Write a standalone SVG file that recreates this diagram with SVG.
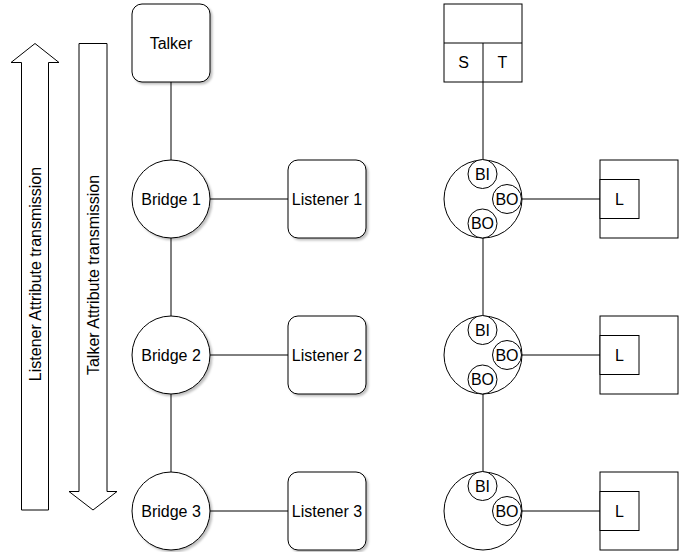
<svg xmlns="http://www.w3.org/2000/svg" width="694" height="552" viewBox="0 0 694 552">
<style>
.s{fill:#fff;stroke:#000;stroke-width:1}
.sh{filter:url(#shadow)}
.c{fill:none;stroke:#000;stroke-width:1}
text{font-family:"Liberation Sans",Arial,Helvetica,sans-serif;font-size:16px;fill:#000;text-anchor:middle}
</style>
<defs>
<filter id="shadow" x="-20%" y="-20%" width="150%" height="150%">
<feDropShadow dx="2" dy="2" stdDeviation="1" flood-color="#000" flood-opacity="0.25"/>
</filter>
</defs>
<g id="arrow-listener">
<polygon class="s" points="21.5,510 21.5,62.5 11,62.5 35,43.5 59,62.5 48.5,62.5 48.5,510"/>
<text x="35" y="274" transform="rotate(-90 35 274)" dy="5.5">Listener Attribute transmission</text>
</g>
<g id="arrow-talker">
<polygon class="s" points="79,43.5 107,43.5 107,491.5 117,491.5 93,510 69,491.5 79,491.5"/>
<text x="93" y="275" transform="rotate(-90 93 275)" dy="5.5">Talker Attribute transmission</text>
</g>
<g id="connectors">
<line class="c" x1="171" y1="82" x2="171" y2="160"/>
<line class="c" x1="171" y1="238" x2="171" y2="316"/>
<line class="c" x1="171" y1="394" x2="171" y2="472"/>
<line class="c" x1="210" y1="199" x2="288" y2="199"/>
<line class="c" x1="210" y1="355" x2="288" y2="355"/>
<line class="c" x1="210" y1="511" x2="288" y2="511"/>
<line class="c" x1="483" y1="82" x2="483" y2="160"/>
<line class="c" x1="483" y1="238" x2="483" y2="316"/>
<line class="c" x1="483" y1="394" x2="483" y2="472"/>
<line class="c" x1="522" y1="199" x2="600" y2="199"/>
<line class="c" x1="522" y1="355" x2="600" y2="355"/>
<line class="c" x1="522" y1="511" x2="600" y2="511"/>
</g>
<g id="talker">
<rect class="s sh" x="132" y="4" width="78" height="78" rx="10"/>
<text x="171" y="48.5">Talker</text>
</g>
<g id="bridge1">
<circle class="s sh" cx="171" cy="199" r="39"/>
<text x="171" y="204.5">Bridge 1</text>
</g>
<g id="bridge2">
<circle class="s sh" cx="171" cy="355" r="39"/>
<text x="171" y="360.5">Bridge 2</text>
</g>
<g id="bridge3">
<circle class="s sh" cx="171" cy="511" r="39"/>
<text x="171" y="516.5">Bridge 3</text>
</g>
<g id="listener1">
<rect class="s sh" x="288" y="160" width="78" height="78" rx="10"/>
<text x="327" y="204.5">Listener 1</text>
</g>
<g id="listener2">
<rect class="s sh" x="288" y="316" width="78" height="78" rx="10"/>
<text x="327" y="360.5">Listener 2</text>
</g>
<g id="listener3">
<rect class="s sh" x="288" y="472" width="78" height="78" rx="10"/>
<text x="327" y="516.5">Listener 3</text>
</g>
<g id="st-box">
<rect class="s" x="444" y="4" width="78" height="78"/>
<line class="c" x1="444" y1="43" x2="522" y2="43"/>
<line class="c" x1="483" y1="43" x2="483" y2="82"/>
<text x="463.5" y="68">S</text>
<text x="502.5" y="68">T</text>
</g>
<g id="bridge-r1">
<circle class="s" cx="483" cy="199" r="39"/>
<circle class="s" cx="482.5" cy="174" r="14.5"/>
<text x="482.5" y="179.5">BI</text>
<circle class="s" cx="507" cy="199" r="14.5"/>
<text x="507" y="204.5">BO</text>
<circle class="s" cx="482.5" cy="223.5" r="14.5"/>
<text x="482.5" y="229">BO</text>
</g>
<g id="bridge-r2">
<circle class="s" cx="483" cy="355" r="39"/>
<circle class="s" cx="482.5" cy="330" r="14.5"/>
<text x="482.5" y="335.5">BI</text>
<circle class="s" cx="507" cy="355" r="14.5"/>
<text x="507" y="360.5">BO</text>
<circle class="s" cx="482.5" cy="379.5" r="14.5"/>
<text x="482.5" y="385">BO</text>
</g>
<g id="bridge-r3">
<circle class="s" cx="483" cy="511" r="39"/>
<circle class="s" cx="482.5" cy="486" r="14.5"/>
<text x="482.5" y="491.5">BI</text>
<circle class="s" cx="507" cy="511" r="14.5"/>
<text x="507" y="516.5">BO</text>
</g>
<g id="l-box1">
<rect class="s" x="600" y="160" width="78" height="78"/>
<rect class="s" x="600" y="179.5" width="39" height="39"/>
<text x="619.5" y="204.5">L</text>
</g>
<g id="l-box2">
<rect class="s" x="600" y="316" width="78" height="78"/>
<rect class="s" x="600" y="335.5" width="39" height="39"/>
<text x="619.5" y="360.5">L</text>
</g>
<g id="l-box3">
<rect class="s" x="600" y="472" width="78" height="78"/>
<rect class="s" x="600" y="491.5" width="39" height="39"/>
<text x="619.5" y="516.5">L</text>
</g>
</svg>
